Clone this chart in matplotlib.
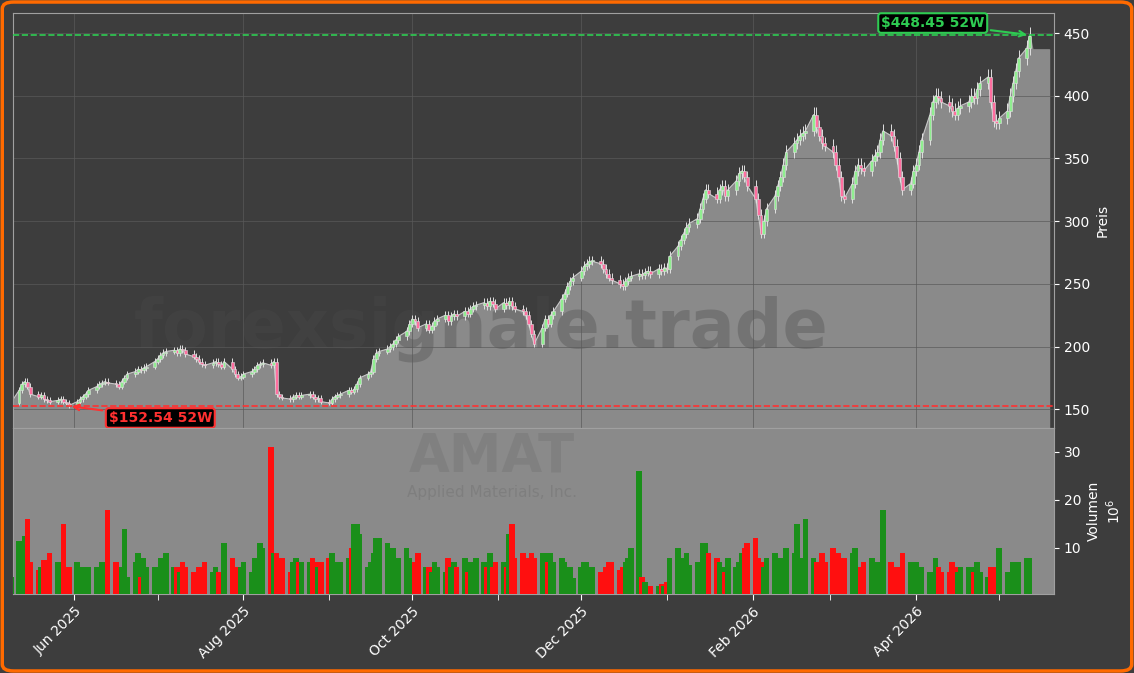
import numpy as np
import pandas as pd
import matplotlib
matplotlib.use("Agg")
import matplotlib.pyplot as plt
import matplotlib.dates as mdates
from matplotlib.patches import FancyBboxPatch

closes = [
155,165,170,172,168, 162,160,161,158,157, 156,157,158,156,155,
153,156,158,160,162, 165,168,170,171,172, 171,170,168,172,175,
178,180,182,181,183, 184,188,190,193,195, 196,197,195,198,197,
194,192,190,188,186, 185,187,188,186,184, 188,182,178,175,176,
178,180,182,185,186, 187,185,188,162,160, 159,158,160,161,160,
161,162,160,158,159, 156,155,158,160,161, 162,165,164,166,170,
175,178,180,190,195, 196,198,200,202,205, 208,212,218,222,220,
215,218,213,216,220, 222,225,220,224,226, 224,228,226,230,232,
233,235,232,236,234, 230,235,233,236,232, 230,228,225,218,210,
202,215,222,218,225, 228,238,242,248,252, 255,260,264,266,268,
268,266,262,258,255, 253,250,248,252,255, 256,258,257,259,260,
258,262,260,263,262, 272,280,285,290,295, 298,302,310,318,325,
322,318,325,328,320, 325,332,338,340,335, 328,318,305,290,300,
310,320,328,335,345, 355,362,365,368,370, 372,385,375,368,362,
360,355,345,335,320, 318,330,340,345,342, 340,348,352,355,365,
372,368,360,350,335, 325,330,340,345,355, 365,385,395,400,398,
395,392,388,385,390, 392,395,400,398,405, 410,415,395,380,378,
382,388,400,410,420, 430,438,448]

volumes = [
4,11.5,9,12.5,16, 7,5.5,6,7.5,6, 9,7,7,15,6,
6,7,6,6,5, 6,6,5,7,6, 18,7,6,6,14,
4,7,9,4,8, 6,6,5,8,6, 9,6,6,5,7,
6,5,5,6,5, 7,5,6,5,4, 11,8,5,6,6,
7,5,8,6,11, 10,31,9,9,8, 8,5,7,8,7,
7,7,8,7,6, 7,8,9,7,6, 7,8,10,15,15,
13,6,7,9,12, 12,11,8,10,8, 8,10,8,7,7,
9,6,6,5,7, 6,5,8,6,7, 6,8,5,7,6,
8,7,6,9,6, 7,7,6,13,15, 8,9,8,8,9,
8,9,9,7,9, 7,8,7,6,6, 3.8,6,7,7,6,
6,5,5,6,7, 7,5.5,6,7,8, 10,26,4,3,1.7,
2,2,2.5,2,3, 8,10,8,6,9, 6.5,7,6,11,11,
9,8,7,6,5, 8,6,7,9,10, 11,12,8,7,6,
8,9,7,8,8, 10,9,15,8,7, 16,8,7,6,9,
7,10,8,9,7, 8,9,10,5,6, 7,8,6,7,5,
18,7,6,6,5, 9,7,6,7,5, 6,5,4,8,6,
5,5,7,6,5, 6,6,6,5,7, 5,4,6,5,6,
10,5,5,7,5, 7,8,8,7]

ext_value = 437
low52, high52 = 152.54, 448.45

dates = pd.bdate_range("2025-05-09", periods=len(closes))
closes = np.array(closes, float)
volumes = np.array(volumes[:len(closes)], float)
opens = np.r_[closes[0] - 2, closes[:-1]]
up = closes >= opens
highs = np.maximum(opens, closes) * 1.015
lows = np.minimum(opens, closes) * 0.988

BG = "#3d3d3d"
FILL = "#8a8a8a"
fig = plt.figure(figsize=(11.34, 6.73), dpi=100, facecolor=BG)
axp = fig.add_axes([13/1134, 1-428/673, 1041/1134, 415/673])
axv = fig.add_axes([13/1134, 1-594/673, 1041/1134, 166/673], sharex=axp)

x = mdates.date2num(dates)
xext = np.r_[x, x[-1] + 1, x[-1] + 7]
yext = np.r_[closes, ext_value, ext_value]
axp.set_facecolor(BG)
axp.fill_between(xext, yext, 0, color=FILL, zorder=1)
axp.plot(x, closes, color="#c8c8c8", lw=0.8, zorder=2)
for xi, o, c, h, l, u in zip(x, opens, closes, highs, lows, up):
    col = "#90ee90" if u else "#ff6fa0"
    axp.vlines(xi, l, h, color="#e0e0e0", lw=0.7, zorder=3)
    axp.bar(xi, max(abs(c - o), 0.8), bottom=min(o, c), width=1.0,
            color=col, edgecolor="#e0e0e0", lw=0.4, zorder=4)
axp.axhline(high52, color="#2ecc52", ls="--", lw=1.2, zorder=5)
axp.axhline(low52, color="#ff3030", ls="--", lw=1.2, zorder=5)
axp.annotate(f"${high52:.2f} 52W", xy=(x[-1], high52), xytext=(x[-1]-35, 458),
             color="#2ecc52", fontsize=10, fontweight="bold", ha="center", va="center",
             bbox=dict(boxstyle="round,pad=0.2", fc="black", ec="#2ecc52", lw=1.5),
             arrowprops=dict(arrowstyle="->", color="#2ecc52", lw=1.5), zorder=6)
imin = int(np.argmin(closes))
axp.annotate(f"${low52:.2f} 52W", xy=(x[imin], low52), xytext=(x[imin]+33, 143),
             color="#ff3030", fontsize=10, fontweight="bold", ha="center", va="center",
             bbox=dict(boxstyle="round,pad=0.2", fc="black", ec="#ff3030", lw=1.5),
             arrowprops=dict(arrowstyle="->", color="#ff3030", lw=1.5), zorder=6)
axp.text(0.45, 0.24, "forexsignale.trade", transform=axp.transAxes, ha="center", va="center",
         fontsize=48, fontweight="bold", color="#4a4a4a", alpha=0.35, zorder=1.5)
axp.set_ylim(135, 466)
axp.set_xlim(x[0] + 0.8, x[0] + 0.8 + 376)
axp.grid(True, color="#5a5a5a", lw=0.6, alpha=0.8)

axv.set_facecolor(FILL)
vcol = np.where(up, "#1a8f1a", "#ff0f0f")
axv.bar(x, volumes, width=2.0, color=vcol, zorder=3)
axv.set_ylim(0.4, 35)
axv.text(0.46, 0.83, "AMAT", transform=axv.transAxes, ha="center", va="center",
         fontsize=38, fontweight="bold", color="#7a7a7a", alpha=0.6)
axv.text(0.46, 0.61, "Applied Materials, Inc.", transform=axv.transAxes, ha="center",
         va="center", fontsize=11, color="#7a7a7a", alpha=0.7)
axv.grid(False)

for ax in (axp, axv):
    ax.yaxis.tick_right()
    ax.yaxis.set_label_position("right")
    ax.tick_params(colors="white", labelsize=10)
    for s in ax.spines.values():
        s.set_color("#a0a0a0")
        s.set_linewidth(0.8)
axp.set_ylabel("Preis", color="white")
axv.set_ylabel("Volumen\n$10^6$", color="white")
axv.set_yticks([10, 20, 30])
axp.tick_params(axis="x", which="both", labelbottom=False, length=0)
axv.xaxis.set_major_locator(mdates.MonthLocator(bymonth=[6, 8, 10, 12, 2, 4]))
axv.xaxis.set_minor_locator(mdates.MonthLocator())
axv.xaxis.set_major_formatter(mdates.DateFormatter("%b %Y"))
axv.tick_params(axis="x", which="both", colors="white", length=4)
plt.setp(axv.get_xticklabels(), rotation=45, ha="right", rotation_mode="anchor")

border = FancyBboxPatch((0.002, 0.003), 0.996, 0.994, boxstyle="round,pad=0,rounding_size=0.01",
                        transform=fig.transFigure, fill=False, ec="#ff6a00", lw=2.5)
fig.patches.append(border)
fig.savefig("out.png", dpi=100, facecolor=BG)
